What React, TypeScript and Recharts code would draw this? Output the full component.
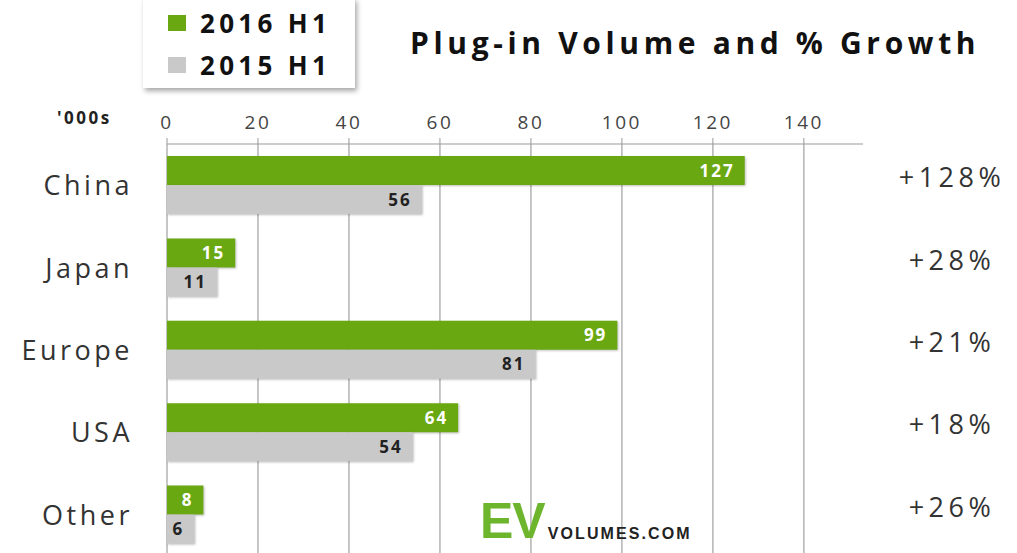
import { BarChart, Bar, XAxis, YAxis, CartesianGrid, LabelList } from "recharts";

const regions = ["China", "Japan", "Europe", "USA", "Other"];
const h1_2016 = [127, 15, 99, 64, 8];
const h1_2015 = [56, 11, 81, 54, 6];
const growth = ["+128%", "+28%", "+21%", "+18%", "+26%"];
const xTicks = [0, 20, 40, 60, 80, 100, 120, 140];

const GREEN = "#6aa812";
const GREY = "#c9c9c9";

const data = regions.map((name, i) => ({ name, v2016: h1_2016[i], v2015: h1_2015[i] }));

function CategoryTick({ x, y, payload }: any) {
  return (
    <text x={x - 26} y={y} dy={10} textAnchor="end" fontFamily="Open Sans" fontSize={27} letterSpacing={3.5} fill="#333">
      {payload.value}
    </text>
  );
}

function GrowthTick({ x, y, index }: any) {
  return (
    <text x={x + 81} y={y} dy={2} textAnchor="middle" fontFamily="Open Sans" fontSize={27} letterSpacing={4.5} fill="#333">
      {growth[index]}
    </text>
  );
}

function LegendBox() {
  const row = (color: string, label: string, top: number) => (
    <div style={{ position: "absolute", left: 25, top, display: "flex", alignItems: "center" }}>
      <div style={{ width: 18, height: 16, background: color, marginRight: 14 }} />
      <span style={{ fontFamily: "Open Sans", fontWeight: "bold", fontSize: 26, color: "#111", letterSpacing: 4.3, lineHeight: "30px" }}>{label}</span>
    </div>
  );
  return (
    <div style={{ position: "absolute", left: 143, top: -2, width: 212, height: 90, background: "#fff", boxShadow: "2px 3px 5px rgba(0,0,0,0.35)" }}>
      {row(GREEN, "2016 H1", 10)}
      {row(GREY, "2015 H1", 52)}
    </div>
  );
}

export default function App() {
  return (
    <div style={{ position: "absolute", left: 0, top: 0, width: 1017, height: 553, overflow: "hidden", background: "#fff" }}>
      <BarChart
        width={1017}
        height={560}
        data={data}
        layout="vertical"
        margin={{ top: 105, right: 0, left: 0, bottom: 4 }}
        barCategoryGap={12}
        barGap={0}
      >
        <CartesianGrid horizontal={false} stroke="#b3b3b3" strokeWidth={1.5} syncWithTicks />
        <XAxis
          type="number"
          orientation="top"
          domain={[0, 153]}
          ticks={xTicks}
          height={39}
          tickSize={6}
          tickMargin={9}
          stroke="#999"
          tick={{ fontFamily: "Open Sans", fontSize: 19, fill: "#444", letterSpacing: 2.5 }}
          interval={0}
        />
        <YAxis yAxisId="cat" type="category" dataKey="name" width={167} axisLine={false} tickLine={false} tick={<CategoryTick />} />
        <YAxis yAxisId="growth" type="category" dataKey="name" orientation="right" width={154} axisLine={false} tickLine={false} tick={<GrowthTick />} />
        <Bar yAxisId="cat" dataKey="v2016" name="2016 H1" fill={GREEN} barSize={29} isAnimationActive={false}
          style={{ filter: "drop-shadow(1px 1px 1px rgba(0,0,0,0.25))" }}>
          <LabelList dataKey="v2016" position="insideRight" offset={10} fill="#fff" fontFamily="Open Sans" fontWeight="bold" fontSize={17} letterSpacing={2} />
        </Bar>
        <Bar yAxisId="cat" dataKey="v2015" name="2015 H1" fill={GREY} barSize={29} isAnimationActive={false}
          style={{ filter: "drop-shadow(1px 1px 1px rgba(0,0,0,0.25))" }}>
          <LabelList dataKey="v2015" position="insideRight" offset={10} fill="#222" fontFamily="Open Sans" fontWeight="bold" fontSize={17} letterSpacing={2} />
        </Bar>
      </BarChart>
      <LegendBox />
      <div style={{ position: "absolute", left: 410, top: 22, fontFamily: "Open Sans", fontWeight: "bold", fontSize: 30, color: "#111", letterSpacing: 4.65, whiteSpace: "nowrap" }}>
        Plug-in Volume and % Growth
      </div>
      <div style={{ position: "absolute", left: 57, top: 106, fontFamily: "Open Sans", fontWeight: "bold", fontSize: 17, color: "#222", letterSpacing: 2.5 }}>
        '000s
      </div>
      <div style={{ position: "absolute", left: 480, top: 500, display: "flex", alignItems: "flex-end", whiteSpace: "nowrap" }}>
        <span style={{ fontFamily: "Liberation Sans", fontWeight: "bold", fontSize: 50, color: "#6cb52d", lineHeight: "42px", letterSpacing: -1 }}>EV</span>
        <span style={{ fontFamily: "Liberation Sans", fontWeight: "bold", fontSize: 16, color: "#222", marginLeft: 3, lineHeight: "16px", letterSpacing: 2.1 }}>VOLUMES.COM</span>
      </div>
    </div>
  );
}
